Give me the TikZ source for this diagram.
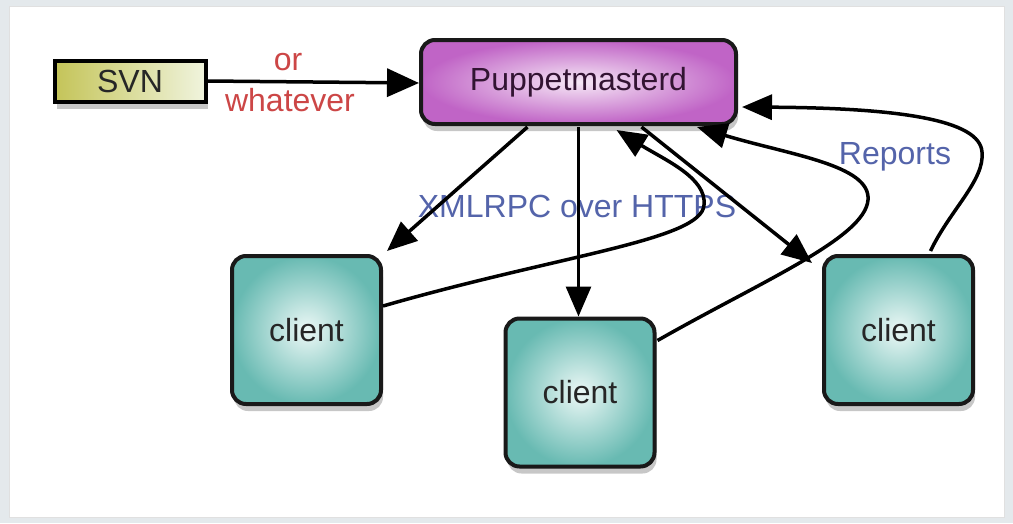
\documentclass[tikz,border=0pt]{standalone}
\usepackage{fontspec}
\setmainfont{Liberation Sans}
\usetikzlibrary{arrows.meta,shadows}
\definecolor{bgframe}{RGB}{228,233,236}
\definecolor{svncol}{RGB}{196,196,88}
\definecolor{svnlight}{RGB}{240,244,222}
\definecolor{pmcol}{RGB}{192,100,198}
\definecolor{pmlight}{RGB}{246,232,246}
\definecolor{clcol}{RGB}{104,186,178}
\definecolor{cllight}{RGB}{236,248,246}
\definecolor{redtext}{RGB}{204,70,70}
\definecolor{bluetext}{RGB}{84,100,170}
\definecolor{pmtext}{RGB}{50,20,50}
\tikzset{
  big/.style={font=\fontsize{32}{36}\selectfont},
  boxshadow/.style={drop shadow={shadow xshift=2pt,shadow yshift=-7pt,opacity=0.22,fill=black}},
  svnbox/.style={big,draw=black,line width=4pt,minimum width=151pt,minimum height=41pt,
    left color=svncol,right color=svnlight,boxshadow,text=black!85},
  pmbox/.style={big,draw=black!90,line width=4pt,rounded corners=14pt,minimum width=315pt,minimum height=84pt,
    inner color=pmlight,outer color=pmcol,boxshadow,text=pmtext},
  clbox/.style={big,draw=black!90,line width=4pt,rounded corners=14pt,minimum width=149pt,minimum height=148pt,
    inner color=cllight,outer color=clcol,boxshadow,text=black!85},
  conn/.style={line width=3.5pt,-{Triangle[length=30pt,width=25pt]}},
  lbl/.style={big},
}
\begin{document}
\begin{tikzpicture}[x=1pt,y=-1pt]
\useasboundingbox (0,0) rectangle (1013,523);
\fill[bgframe] (0,0) rectangle (1013,523);
\filldraw[fill=white,draw=black!12,line width=1pt] (9,6) rectangle (1004,517);

\node[svnbox] (svn) at (130,81) {SVN};
\node[pmbox] (pm) at (578.5,82) {Puppetmasterd};
\node[clbox] (c1) at (306.5,330) {client};
\node[clbox] (c2) at (580,392.5) {client};
\node[clbox] (c3) at (898.5,330) {client};

\node[lbl,text=redtext] (or) at (288,62) {or};
\node[lbl,text=redtext] (whatever) at (290,100) {whatever};
\node[lbl,text=bluetext] (xml) at (577,206) {XMLRPC over HTTPS};
\node[lbl,text=bluetext] (rep) at (895,157) {Reports};

\draw[conn,-{Triangle[length=32pt,width=28pt]}] (svn.east) -- ([yshift=-1pt]pm.west);
\draw[conn] ([xshift=-51pt,yshift=-1pt]pm.south) -- ([xshift=4pt,yshift=3pt]c1.north east);
\draw[conn,line width=3pt] ([yshift=-1pt]pm.south) -- (pm.south |- c2.north);
\draw[conn] ([xshift=63pt,yshift=-1pt]pm.south) -- ([xshift=-10pt,yshift=-9pt]c3.north west);

\coordinate (a4) at (704,205);
\draw[conn] ([yshift=24pt]c1.east) .. controls (560,255) and (702,240) .. (a4)
  .. controls (707,178) and (665,160) .. ([xshift=38pt,yshift=-4pt]pm.south);
\coordinate (a5) at (868,200);
\draw[conn] ([yshift=52pt,xshift=1pt]c2.east) .. controls (760,282) and (865,238) .. (a5)
  .. controls (871,165) and (790,155) .. ([xshift=-41pt,yshift=-1pt]pm.south east);
\coordinate (a6) at (982,152);
\draw[conn] ([xshift=32pt,yshift=3pt]c3.north) .. controls (950,210) and (985,180) .. (a6)
  .. controls (980,120) and (900,108) .. ([xshift=4pt,yshift=-25pt]pm.east);
\end{tikzpicture}
\end{document}
